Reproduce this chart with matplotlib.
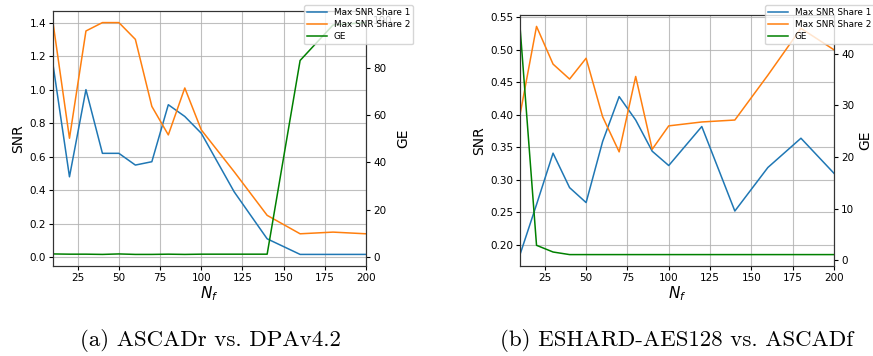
import matplotlib
matplotlib.use('Agg')
import matplotlib.pyplot as plt

# (a) ASCADr vs. DPAv4.2
nf_a = [10, 20, 30, 40, 50, 60, 70, 80, 90, 100, 120, 140, 160, 180, 200]
snr1_a = [1.15, 0.48, 1.00, 0.62, 0.62, 0.55, 0.57, 0.91, 0.84, 0.74, 0.39, 0.11, 0.017, 0.017, 0.017]
snr2_a = [1.40, 0.71, 1.35, 1.40, 1.40, 1.30, 0.90, 0.73, 1.01, 0.76, 0.51, 0.25, 0.14, 0.15, 0.14]
ge_a = [1.3, 1.2, 1.2, 1.1, 1.3, 1.1, 1.1, 1.2, 1.1, 1.2, 1.2, 1.2, 83, 98, 99]

# (b) ESHARD-AES128 vs. ASCADf
nf_b = [10, 20, 30, 40, 50, 60, 70, 80, 90, 100, 120, 140, 160, 180, 200]
snr1_b = [0.185, 0.262, 0.341, 0.288, 0.265, 0.359, 0.428, 0.392, 0.344, 0.322, 0.382, 0.252, 0.319, 0.364, 0.310]
snr2_b = [0.400, 0.536, 0.478, 0.455, 0.487, 0.397, 0.343, 0.459, 0.347, 0.383, 0.389, 0.392, 0.461, 0.533, 0.500]
ge_b = [45.3, 2.9, 1.6, 1.1, 1.1, 1.1, 1.1, 1.1, 1.1, 1.1, 1.1, 1.1, 1.1, 1.1, 1.1]

captions = ["(a) ASCADr vs. DPAv4.2", "(b) ESHARD-AES128 vs. ASCADf"]

W, H = 873, 356
fig = plt.figure(figsize=(W / 100, H / 100), dpi=100)


def panel(rect, nf, s1, s2, ge, leg_anchor, cap_x, caption):
    l, t, r, b = rect
    ax = fig.add_axes([l / W, 1 - b / H, (r - l) / W, (b - t) / H])
    ax2 = ax.twinx()
    h1, = ax.plot(nf, s1, color="#1f77b4", lw=1.1, label="Max SNR Share 1")
    h2, = ax.plot(nf, s2, color="#ff7f0e", lw=1.1, label="Max SNR Share 2")
    h3, = ax2.plot(nf, ge, color="green", lw=1.1, label="GE")
    ax.set_xlim(10, 200)
    ax.set_xticks([25, 50, 75, 100, 125, 150, 175, 200])
    ax.grid(True, color="#b0b0b0", lw=0.8, alpha=0.8)
    ax2.grid(True, axis="x", color="#cccccc", lw=0.8, alpha=0.6)
    ax.set_ylabel("SNR", fontsize=10, labelpad=3)
    ax2.set_ylabel("GE", fontsize=10, labelpad=3)
    ax.set_xlabel(r"$N_f$", fontsize=11, labelpad=1)
    for a in (ax, ax2):
        a.tick_params(labelsize=7.5, length=3, pad=2)
        for s in a.spines.values():
            s.set_color("#333333")
    fig.legend([h1, h2, h3], ["Max SNR Share 1", "Max SNR Share 2", "GE"],
               loc="upper left", bbox_to_anchor=(leg_anchor[0] / W, 1 - leg_anchor[1] / H),
               fontsize=6.4, framealpha=0.8, borderpad=0.35, labelspacing=0.35,
               handlelength=2.2, handletextpad=0.8, borderaxespad=0)
    fig.text(cap_x / W, 1 - 341 / H, caption, ha="center", va="center",
             fontname="cmr10", fontsize=16.5)


panel((53, 11, 366, 266), nf_a, snr1_a, snr2_a, ge_a, (304, 5), 210, captions[0])
panel((520, 15, 834, 266), nf_b, snr1_b, snr2_b, ge_b, (765, 5), 677, captions[1])

fig.savefig("out.png", dpi=100)
